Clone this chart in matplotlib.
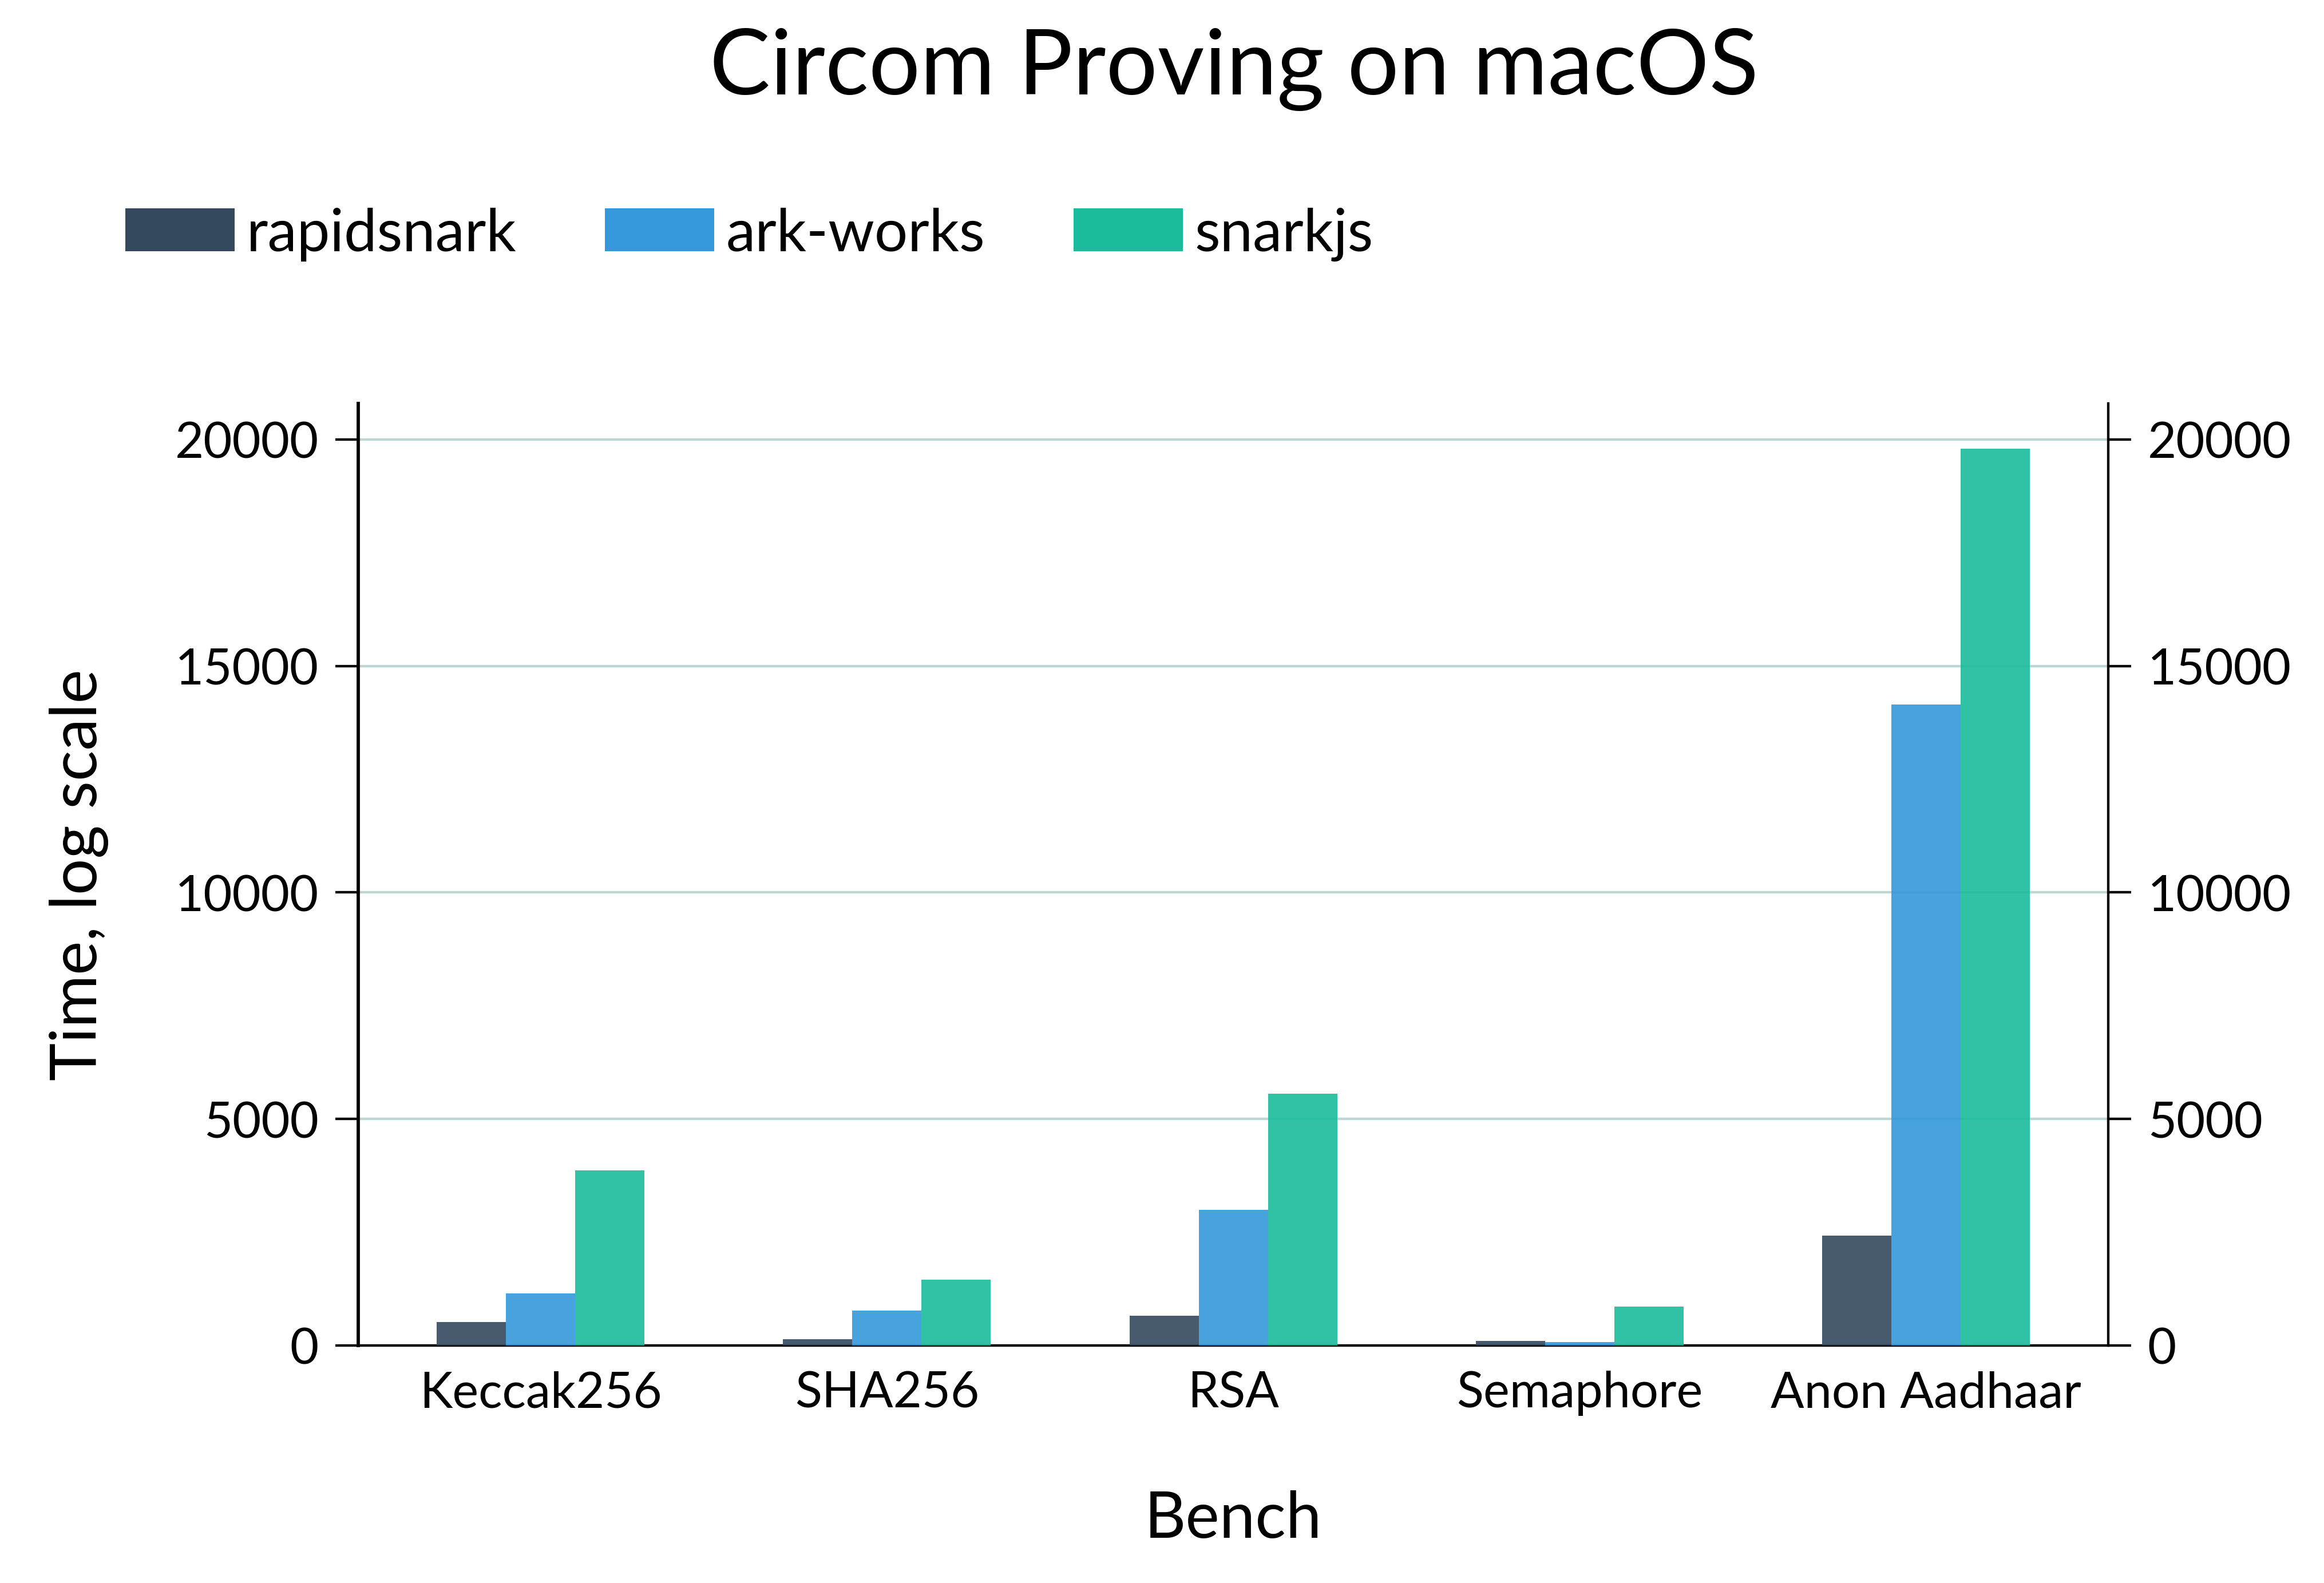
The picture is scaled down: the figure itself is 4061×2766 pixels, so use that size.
import numpy as np
import matplotlib
matplotlib.use('Agg')
import matplotlib.pyplot as plt
from matplotlib.patches import Patch

plt.rcParams['font.family'] = ['Lato', 'DejaVu Sans']

# data
benches = ['Keccak256', 'SHA256', 'RSA', 'Semaphore', 'Anon Aadhaar']
rapidsnark = [520, 140, 660, 100, 2420]
ark_works = [1150, 770, 3000, 75, 14150]
snarkjs = [3870, 1450, 5560, 860, 19800]
series_names = ['rapidsnark', 'ark-works', 'snarkjs']
colors = ['#34495e', '#3498db', '#1abc9c']
yticks = [0, 5000, 10000, 15000, 20000]

fig = plt.figure(figsize=(15.623, 10.642), dpi=260)
ax = fig.add_axes([0.154, 0.150, 0.753, 0.595])

x = np.arange(len(benches))
w = 0.2
for i, vals in enumerate([rapidsnark, ark_works, snarkjs]):
    ax.bar(x + (i - 1) * w, vals, w, color=colors[i], alpha=0.9, zorder=3)

ax.set_ylim(0, 20800)
ax.set_xlim(-0.527, 4.526)
ax.set_yticks(yticks)
ax.set_xticks(x)
ax.set_xticklabels(benches)
ax.yaxis.grid(True, color='#bcd6d3', linewidth=1.2, zorder=0)
ax.set_axisbelow(True)

for s in ['top', 'right']:
    ax.spines[s].set_visible(False)
ax.spines['left'].set_linewidth(1.6)
ax.spines['bottom'].set_linewidth(1.2)
ax.tick_params(axis='y', length=11, width=1.2, labelsize=24, pad=8)
ax.tick_params(axis='x', length=0, labelsize=24, pad=12)

# right axis with the same scale
ax2 = ax.twinx()
ax2.set_ylim(ax.get_ylim())
ax2.set_yticks(yticks)
for s in ['top', 'left', 'bottom']:
    ax2.spines[s].set_visible(False)
ax2.spines['right'].set_linewidth(1.2)
ax2.tick_params(axis='y', length=11, width=1.2, labelsize=24, pad=8)

ax.set_xlabel('Bench', fontsize=31, labelpad=36)
ax.set_ylabel('Time, log scale', fontsize=31, labelpad=32)

fig.text(0.531, 0.956, 'Circom Proving on macOS', ha='center', va='center', fontsize=44)

handles = [Patch(facecolor=c) for c in colors]
fig.legend(handles, series_names, loc='center left', bbox_to_anchor=(0.031, 0.852),
           ncol=3, frameon=False, fontsize=28.5, handlelength=1.86, handleheight=0.74,
           handletextpad=0.2, columnspacing=1.5)

fig.savefig('out.png', dpi=260)
